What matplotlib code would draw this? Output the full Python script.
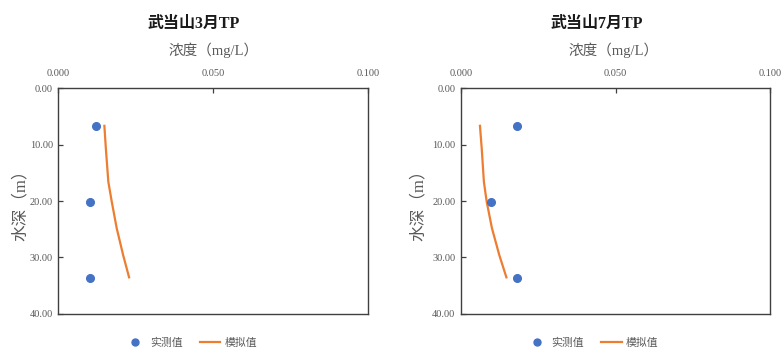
import matplotlib
matplotlib.use("Agg")
import matplotlib.pyplot as plt
from matplotlib.lines import Line2D
from matplotlib.ticker import FormatStrFormatter

plt.rcParams['font.family'] = ['Liberation Serif', 'Noto Sans CJK SC', 'DejaVu Sans']

titles = ["武当山3月TP", "武当山7月TP"]
xlabel = "浓度（mg/L）"
ylabel = "水深（m）"
legend_labels = ["实测值", "模拟值"]

obs_depth = [6.7, 20.2, 33.6]
obs_mar = [0.0120, 0.0101, 0.0101]
obs_jul = [0.0180, 0.0098, 0.0180]

sim_depth = [6.5, 10.7, 16.6, 20.1, 24.8, 29.6, 33.7]
sim_mar = [0.0148, 0.0153, 0.0161, 0.0172, 0.0188, 0.0209, 0.0229]
sim_jul = [0.0061, 0.0067, 0.0074, 0.0083, 0.0100, 0.0124, 0.0148]

xticks = [0.0, 0.05, 0.1]
yticks = [0, 10, 20, 30, 40]

blue = "#4472C4"
orange = "#ED7D31"
gray = "#595959"

fig = plt.figure(figsize=(7.81, 3.54), dpi=100)

axes_lefts = [0.0749, 0.5903]
axes_widths = [0.3963, 0.3956]
title_x = [0.2484, 0.7644]
xlabel_x = [0.274, 0.785]
ylabel_x = [0.026, 0.536]
legend_x = [0.2446, 0.7586]
obs_sets = [obs_mar, obs_jul]
sim_sets = [sim_mar, sim_jul]

for i in range(2):
    ax = fig.add_axes([axes_lefts[i], 0.1130, axes_widths[i], 0.6384])
    ax.plot(sim_sets[i], sim_depth, color=orange, lw=1.6, solid_capstyle='butt',
            solid_joinstyle='round')
    ax.plot(obs_sets[i], obs_depth, 'o', color=blue, ms=5.5, mec=blue)
    ax.set_xlim(0, 0.1)
    ax.set_ylim(40, 0)
    ax.set_xticks(xticks)
    ax.set_yticks(yticks)
    ax.xaxis.set_major_formatter(FormatStrFormatter('%.3f'))
    ax.yaxis.set_major_formatter(FormatStrFormatter('%.2f'))
    ax.xaxis.tick_top()
    ax.tick_params(axis='both', direction='in', length=3.5, width=0.9,
                   labelsize=7.5, labelcolor=gray, color='#404040', pad=4)
    ax.tick_params(axis='x', pad=7)
    for s in ax.spines.values():
        s.set_color('#404040')
        s.set_linewidth(1.0)
    fig.text(title_x[i], 0.932, titles[i], ha='center', va='center',
             fontsize=11.5, fontweight='bold', color='#1a1a1a')
    fig.text(xlabel_x[i], 0.859, xlabel, ha='center', va='center',
             fontsize=10.5, color=gray)
    fig.text(ylabel_x[i], 0.432, ylabel, ha='center', va='center',
             fontsize=12, color=gray, rotation=90)
    handles = [Line2D([], [], ls='none', marker='o', color=blue, ms=5),
               Line2D([], [], color=orange, lw=1.6)]
    fig.legend(handles, legend_labels, loc='center', ncol=2,
               bbox_to_anchor=(legend_x[i], 0.031), frameon=False,
               fontsize=7.8, labelcolor=gray, handlelength=1.9,
               columnspacing=1.6, handletextpad=0.4)

fig.savefig("out.png", dpi=100)
